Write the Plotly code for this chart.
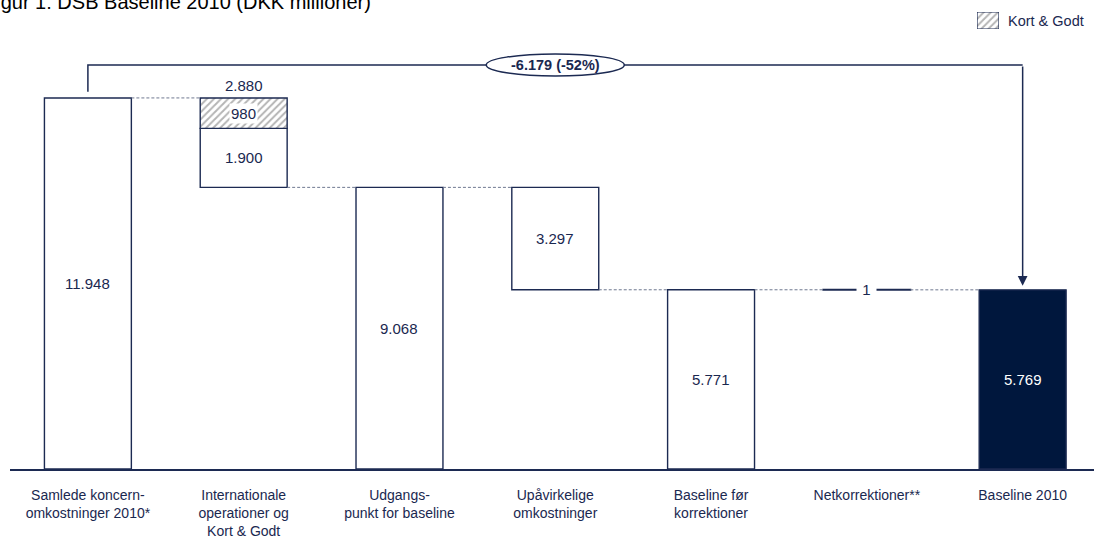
import plotly.graph_objects as go

# ---------------- data ----------------
categories = [
    "Samlede koncern-<br>omkostninger 2010*",
    "Internationale<br>operationer og<br>Kort & Godt",
    "Udgangs-<br>punkt for baseline",
    "Upåvirkelige<br>omkostninger",
    "Baseline før<br>korrektioner",
    "Netkorrektioner**",
    "Baseline 2010",
]
total_2010 = 11948
intl_ops = 1900
kort_godt = 980
intl_total = 2880
start_point = 9068
unaffectable = 3297
before_corr = 5771
net_corr_label = 1
baseline_2010 = 5769
change_label = "-6.179 (-52%)"
title_text = "Figur 1: DSB Baseline 2010 (DKK millioner)"
legend_name = "Kort & Godt"

# ---------------- style ----------------
NAVY = "#1c2a52"
DARK = "#00173d"
TXT = "#1a2850"
FONT = "Liberation Sans, Arial, sans-serif"
W = 0.558
OUT = 1.4
HATCH = dict(shape="/", fgcolor="#6a6a6a", bgcolor="white", size=5, solidity=0.4)

# layout geometry (pixels)
FIG_W, FIG_H = 1094, 539
ML, MB = 10, 70
PLOT_H = FIG_H - MB          # paper height (top margin 0)
PLOT_W = FIG_W - ML


def px_x(p):
    return (p - ML) / PLOT_W


def px_y(p):
    return (PLOT_H - p) / PLOT_H


def fmt(v):
    return f"{v:,}".replace(",", ".")


fig = go.Figure()

bars = [
    (0, 0, total_2010, "white", OUT),
    (1, start_point, intl_ops, "white", OUT),
    (2, 0, start_point, "white", OUT),
    (3, before_corr, unaffectable, "white", OUT),
    (4, 0, before_corr, "white", OUT),
    (5, baseline_2010, before_corr - baseline_2010, NAVY, 2),
    (6, 0, baseline_2010, DARK, OUT),
]
for x, base, h, fill, lw in bars:
    fig.add_trace(go.Bar(
        x=[x], y=[h], base=[base], width=W,
        marker=dict(color=fill, line=dict(color=NAVY, width=lw)),
        showlegend=False, hoverinfo="skip",
    ))

# hatched Kort & Godt segment
fig.add_trace(go.Bar(
    x=[1], y=[kort_godt], base=[start_point + intl_ops], width=W,
    name=legend_name,
    marker=dict(color="white", line=dict(color=NAVY, width=OUT), pattern=HATCH),
    showlegend=False, hoverinfo="skip",
))

# legend swatch (hatched box) on its own small axes
fig.add_trace(go.Bar(
    x=[0.5], y=[1], width=1, xaxis="x2", yaxis="y2",
    marker=dict(color="white", line=dict(color=NAVY, width=1.2), pattern=HATCH),
    showlegend=False, hoverinfo="skip",
))
fig.add_annotation(xref="paper", yref="paper", x=px_x(1006), y=px_y(20.5),
                   xanchor="left", yanchor="middle", text=legend_name,
                   showarrow=False, font=dict(family=FONT, size=14.5, color=TXT))

# dashed connectors
levels = [total_2010, start_point, start_point, before_corr, before_corr, baseline_2010]
for i, lv in enumerate(levels):
    fig.add_trace(go.Scatter(
        x=[i + W / 2, i + 1 - W / 2], y=[lv, lv], mode="lines",
        line=dict(color="#6f7890", width=1, dash="3px,2px"),
        showlegend=False, hoverinfo="skip",
    ))

# bracket
bracket = total_2010 * 1.089
fig.add_trace(go.Scatter(
    x=[0, 0, 6], y=[total_2010 + 195, bracket, bracket], mode="lines",
    line=dict(color=NAVY, width=1.5), showlegend=False, hoverinfo="skip",
))
fig.add_annotation(
    x=6, y=baseline_2010, ax=6, ay=bracket, xref="x", yref="y",
    axref="x", ayref="y", showarrow=True, arrowhead=2, arrowsize=1.3,
    arrowwidth=1.5, arrowcolor=NAVY, standoff=4, text="",
)
fig.add_shape(
    type="circle", xref="x", yref="y", xsizemode="pixel", ysizemode="pixel",
    xanchor=3, yanchor=bracket, x0=-69, x1=69, y0=-11, y1=11,
    line=dict(color=NAVY, width=1.5), fillcolor="white", layer="above",
)
fig.add_annotation(x=3, y=bracket, text=f"<b>{change_label}</b>", showarrow=False,
                   font=dict(family=FONT, size=14.5, color=TXT))

# value labels
labels = [
    (0, total_2010 / 2, fmt(total_2010), None),
    (1, start_point + intl_ops / 2, fmt(intl_ops), None),
    (1, start_point + intl_ops + kort_godt / 2, fmt(kort_godt), "white"),
    (2, start_point / 2, fmt(start_point), None),
    (3, before_corr + unaffectable / 2, fmt(unaffectable), None),
    (4, before_corr / 2, fmt(before_corr), None),
    (5, (before_corr + baseline_2010) / 2, "&nbsp;" + fmt(net_corr_label) + "&nbsp;", "white"),
    (6, baseline_2010 / 2, fmt(baseline_2010), None),
]
for x, y, t, bg in labels:
    col = "white" if x == 6 else TXT
    fig.add_annotation(x=x, y=y, text=t, showarrow=False,
                       font=dict(family=FONT, size=15, color=col),
                       bgcolor=bg, borderpad=1)
fig.add_annotation(x=1, y=start_point + intl_total, text=fmt(intl_total),
                   showarrow=False, yanchor="bottom", yshift=2,
                   font=dict(family=FONT, size=15, color=TXT))

# title (partially clipped, as in reference)
fig.add_annotation(xref="paper", yref="paper", x=px_x(-18), y=px_y(15),
                   xanchor="left", yanchor="bottom", text=title_text,
                   showarrow=False, font=dict(family=FONT, size=20, color="black"))

fig.update_layout(
    width=FIG_W, height=FIG_H,
    margin=dict(l=ML, r=0, t=0, b=MB, autoexpand=False),
    paper_bgcolor="white", plot_bgcolor="rgba(0,0,0,0)",
    barmode="overlay",
    font=dict(family=FONT, color=TXT, size=14),
    xaxis=dict(range=[-0.5, 6.458], tickmode="array",
               tickvals=list(range(len(categories))), ticktext=categories,
               showline=True, linecolor=NAVY, linewidth=1.5,
               ticks="outside", ticklen=12, tickcolor="rgba(0,0,0,0)",
               showgrid=False, zeroline=False, automargin=False,
               tickfont=dict(family=FONT, size=14, color=TXT)),
    yaxis=dict(range=[0, total_2010 * 1.21], domain=[0, px_y(20)],
               visible=False, showgrid=False, automargin=False),
    xaxis2=dict(domain=[px_x(977), px_x(999)], range=[0, 1], visible=False,
                anchor="y2", fixedrange=True),
    yaxis2=dict(domain=[px_y(29), px_y(12)], range=[0, 1], visible=False,
                anchor="x2", fixedrange=True),
    showlegend=False,
)

fig.write_html("out.html", config={"displayModeBar": False},
               post_script="document.body.style.margin='0';")
